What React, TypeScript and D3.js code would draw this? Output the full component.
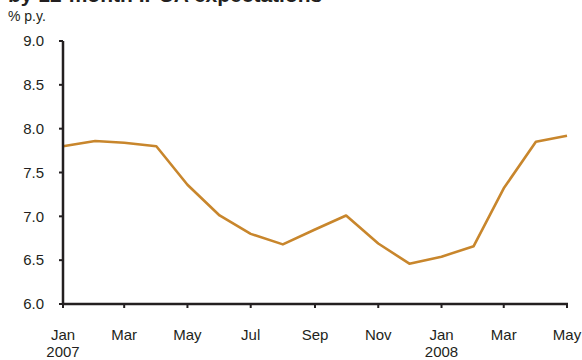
import React from "react";
import * as d3 from "d3";

const months = [
  "2007-01", "2007-02", "2007-03", "2007-04", "2007-05", "2007-06", "2007-07", "2007-08",
  "2007-09", "2007-10", "2007-11", "2007-12", "2008-01", "2008-02", "2008-03", "2008-04", "2008-05",
];
const ipcaExpectations = [
  7.80, 7.86, 7.84, 7.80, 7.36, 7.01, 6.80, 6.68, 6.85, 7.01, 6.69, 6.46, 6.54, 6.66, 7.32, 7.85, 7.92,
];
const yTicks = [6.0, 6.5, 7.0, 7.5, 8.0, 8.5, 9.0];
const xTickMonths = ["2007-01", "2007-03", "2007-05", "2007-07", "2007-09", "2007-11", "2008-01", "2008-03", "2008-05"];
const xTickLabels = [["Jan", "2007"], ["Mar"], ["May"], ["Jul"], ["Sep"], ["Nov"], ["Jan", "2008"], ["Mar"], ["May"]];
const title = "by 12-month IPCA expectations";
const unitLabel = "% p.y.";

export default function App() {
  const W = 582, H = 360;
  const left = 63, right = 567, top = 41, bottom = 304;
  const parse = d3.timeParse("%Y-%m");
  const dates = months.map((m) => parse(m) as Date);
  const x = d3.scaleTime().domain([dates[0], dates[dates.length - 1]]).range([left, right]);
  const y = d3.scaleLinear().domain([6, 9]).range([bottom, top]);
  const line = d3
    .line<number>()
    .x((_, i) => x(dates[i]))
    .y((d) => y(d));
  const font = "Liberation Sans, Arial, sans-serif";
  const axisColor = "#231f20";
  return (
    <svg width={W} height={H} style={{ position: "absolute", left: 0, top: 0 }} fontFamily={font}>
      <rect width={W} height={H} fill="#fff" />
      <text x={8} y={1.5} fontSize={21} fontWeight="bold" fill="#231f20">{title}</text>
      <text x={8} y={21} fontSize={14} fill="#231f20">{unitLabel}</text>
      <path d={line(ipcaExpectations) || ""} fill="none" stroke="#C8862C" strokeWidth={2.6} strokeLinejoin="round" />
      {yTicks.map((t) => (
        <g key={t}>
          <line x1={left - 4} x2={left} y1={y(t)} y2={y(t)} stroke={axisColor} strokeWidth={2} />
          <text x={44} y={y(t)} dy="0.35em" textAnchor="end" fontSize={15} fill="#231f20">
            {t.toFixed(1)}
          </text>
        </g>
      ))}
      {xTickMonths.map((m, i) => {
        const xx = x(parse(m) as Date);
        return (
          <g key={m}>
            <line x1={xx} x2={xx} y1={bottom} y2={bottom + 4} stroke={axisColor} strokeWidth={2} />
            {xTickLabels[i].map((s, j) => (
              <text key={j} x={xx} y={340 + j * 17} textAnchor="middle" fontSize={15} fill="#231f20">
                {s}
              </text>
            ))}
          </g>
        );
      })}
      <line x1={left} x2={left} y1={top} y2={bottom + 1} stroke={axisColor} strokeWidth={2.5} />
      <line x1={left - 1} x2={right + 1} y1={bottom} y2={bottom} stroke={axisColor} strokeWidth={2.5} />
    </svg>
  );
}
